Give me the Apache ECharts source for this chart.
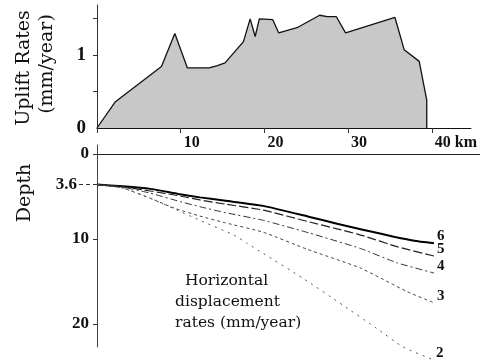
<!DOCTYPE html>
<html><head><meta charset="utf-8">
<script src="https://cdn.jsdelivr.net/npm/echarts@6/dist/echarts.min.js"></script>
<style>html,body{margin:0;padding:0;background:#fff}#c{width:480px;height:362px}</style>
</head><body><div id="c"></div>
<script>
// ---- data ----
const kmTicks = [10, 20, 30, 40];
const upliftTicks = [0, 1];
const depthTicks = [0, 10, 20];
const upliftKm   = [0, 2.2, 7.7, 9.3, 10.8, 13.4, 14.3, 15.3, 17.5, 18.3, 18.9, 19.4, 21.0, 21.7, 23.9, 26.6, 27.5, 28.6, 29.7, 35.6, 36.7, 38.5, 39.4, 39.4];
const upliftRate = [0, 0.36, 0.84, 1.29, 0.82, 0.82, 0.85, 0.89, 1.18, 1.49, 1.25, 1.49, 1.48, 1.30, 1.37, 1.54, 1.52, 1.52, 1.30, 1.51, 1.07, 0.91, 0.38, 0];
const rateNames = ['6', '5', '4', '3', '2'];
const c6Km = [0, 3, 6.2, 9.5, 12, 15, 19.4, 24.8, 28, 31, 34.5, 37, 39.3];
const c6D  = [3.6, 3.8, 4.1, 4.7, 5.1, 5.5, 6.1, 7.4, 8.2, 8.9, 9.7, 10.2, 10.5];
const c5Km = [0, 3, 6.2, 9.5, 12, 15, 19.4, 24.8, 28, 31, 35, 39.3];
const c5D  = [3.6, 3.85, 4.35, 4.9, 5.4, 5.9, 6.6, 8.0, 8.8, 9.6, 10.9, 12.0];
const c4Km = [0, 3, 6.2, 9.7, 12, 15, 19.4, 24.8, 30.7, 35, 39.3];
const c4D  = [3.6, 3.9, 4.6, 5.6, 6.2, 6.9, 7.8, 9.3, 11.1, 12.8, 14.0];
const c3Km = [0, 3, 6.2, 9.1, 12, 15, 19.4, 24.5, 30.7, 36.2, 39.3];
const c3D  = [3.6, 4.0, 5.2, 6.4, 7.3, 8.1, 9.2, 11.2, 13.4, 16.2, 17.5];
const c2Km = [0, 3, 6.2, 9.1, 12, 15.9, 17.5, 19.4, 24, 28.7, 32.6, 35.7, 39.2];
const c2D  = [3.6, 4.0, 5.2, 6.5, 7.8, 9.5, 10.5, 11.7, 14.6, 17.8, 20.5, 22.7, 24.2];

const zip = (a, b) => a.map((v, i) => [v, b[i]]);
const curves = [[c6Km, c6D], [c5Km, c5D], [c4Km, c4D], [c3Km, c3D], [c2Km, c2D]];
const styles = [
  {type: 'solid', width: 2, color: '#000'},
  {type: [9, 3], width: 1.2, color: '#222'},
  {type: [7, 3, 2, 3], width: 1, color: '#333'},
  {type: [3, 3], width: 1, color: '#444'},
  {type: [2, 5], width: 1, color: '#555'}
];
const tickFont = {fontFamily: 'Liberation Serif', fontWeight: 'bold', color: '#111'};

const chart = echarts.init(document.getElementById('c'), null, {renderer: 'canvas'});
chart.setOption({
  animation: false,
  grid: [
    {left: 97, top: 5, width: 383, height: 123},
    {left: 97, top: 145, width: 383, height: 202}
  ],
  xAxis: [
    {gridIndex: 0, type: 'value', min: 0, max: 44.67,
     axisLine: {show: true, lineStyle: {color: '#111', width: 1.2}},
     axisTick: {show: true, customValues: [0].concat(kmTicks), length: 5, lineStyle: {color: '#333'}},
     axisLabel: {customValues: kmTicks, align: 'left', padding: [0, 0, 0, 3], margin: 7, fontSize: 16, ...tickFont,
                 formatter: v => v === 40 ? '40 km' : String(v)},
     splitLine: {show: false}},
    {gridIndex: 1, type: 'value', min: 0, max: 44.67,
     axisLine: {show: true, onZero: true, lineStyle: {color: '#222', width: 1.2}},
     axisTick: {show: false}, axisLabel: {show: false}, splitLine: {show: false}}
  ],
  yAxis: [
    {gridIndex: 0, type: 'value', min: 0, max: 1.68,
     axisLine: {show: true, lineStyle: {color: '#333', width: 1}},
     axisTick: {show: true, customValues: [0.5, 1, 1.5], length: 4, lineStyle: {color: '#333'}},
     axisLabel: {customValues: upliftTicks, margin: 11, fontSize: 19, ...tickFont},
     splitLine: {show: false}},
    {gridIndex: 1, type: 'value', min: -1.06, max: 22.7, inverse: true,
     axisLine: {show: true, onZero: false, lineStyle: {color: '#444', width: 1}},
     axisTick: {show: true, customValues: depthTicks, length: 4, lineStyle: {color: '#333'}},
     axisLabel: {customValues: depthTicks, margin: 8, fontSize: 17, ...tickFont},
     splitLine: {show: false}},
    {gridIndex: 1, type: 'value', min: -1.06, max: 22.7, inverse: true, position: 'left',
     axisLine: {show: false},
     axisTick: {show: true, customValues: [3.6], length: 19, lineStyle: {color: '#333', type: [4, 3]}},
     axisLabel: {customValues: [3.6], margin: 20, fontSize: 17, ...tickFont, formatter: v => '3.6'},
     splitLine: {show: false}}
  ],
  series: [
    {type: 'line', xAxisIndex: 0, yAxisIndex: 0, data: zip(upliftKm, upliftRate),
     symbol: 'none', lineStyle: {color: '#111', width: 1.3},
     areaStyle: {color: '#c8c8c8', opacity: 1}}
  ].concat(curves.map((c, i) => ({
    type: 'line', name: rateNames[i], xAxisIndex: 1, yAxisIndex: 1, data: zip(c[0], c[1]),
    symbol: 'none', smooth: 0.15, clip: false, lineStyle: styles[i],
    endLabel: {show: true, formatter: rateNames[i], distance: 3, offset: [0, -7],
               fontFamily: 'Liberation Serif', fontWeight: 'bold', fontSize: 15, color: '#111'}
  }))),
  graphic: [
    {type: 'text', x: 24, y: 68, rotation: Math.PI / 2,
     style: {text: 'Uplift Rates', font: '19px "DejaVu Serif"', fill: '#111', align: 'center', verticalAlign: 'middle'}},
    {type: 'text', x: 47, y: 64, rotation: Math.PI / 2,
     style: {text: '(mm/year)', font: '19px "DejaVu Serif"', fill: '#111', align: 'center', verticalAlign: 'middle'}},
    {type: 'text', x: 25, y: 193, rotation: Math.PI / 2,
     style: {text: 'Depth', font: '19px "DejaVu Serif"', fill: '#111', align: 'center', verticalAlign: 'middle'}},
    {type: 'text', x: 185, y: 281,
     style: {text: 'Horizontal', font: '15.5px "DejaVu Serif"', fill: '#111', align: 'left', verticalAlign: 'middle'}},
    {type: 'text', x: 175, y: 302,
     style: {text: 'displacement', font: '15.5px "DejaVu Serif"', fill: '#111', align: 'left', verticalAlign: 'middle'}},
    {type: 'text', x: 175, y: 323,
     style: {text: 'rates (mm/year)', font: '15.5px "DejaVu Serif"', fill: '#111', align: 'left', verticalAlign: 'middle'}}
  ]
});
</script></body></html>
